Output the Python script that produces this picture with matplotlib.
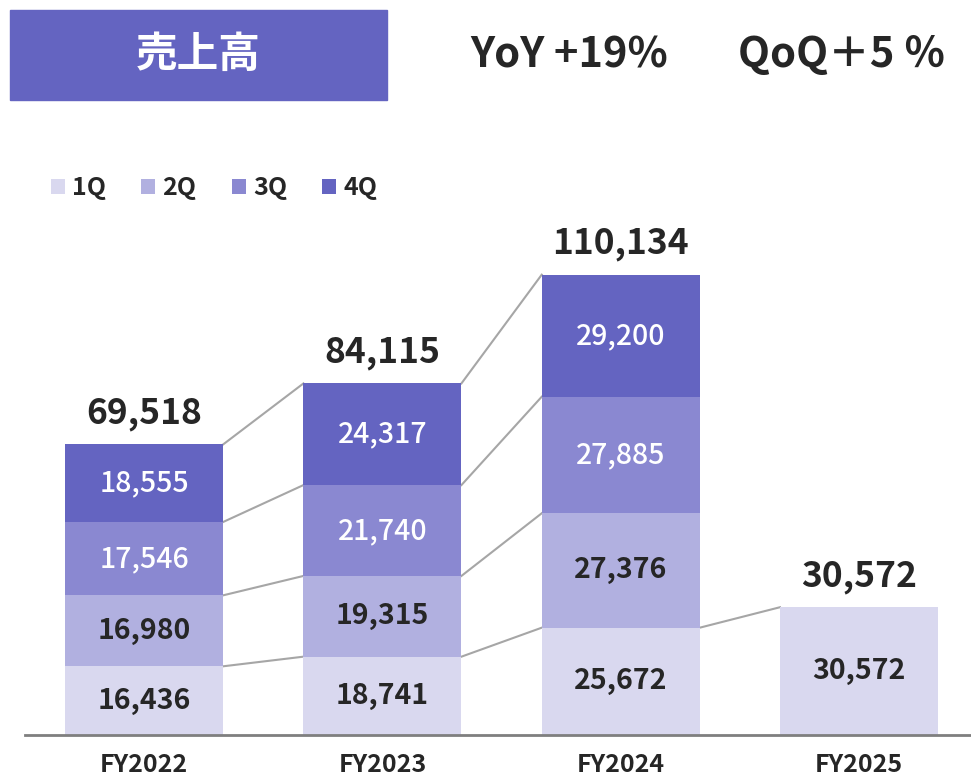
import numpy as np
import matplotlib.pyplot as plt
from matplotlib.patches import Rectangle

plt.rcParams['font.family'] = ['Noto Sans CJK JP', 'DejaVu Sans']

# Datos
years = ['FY2022', 'FY2023', 'FY2024', 'FY2025']
q1 = [16436, 18741, 25672, 30572]
q2 = [16980, 19315, 27376, 0]
q3 = [17546, 21740, 27885, 0]
q4 = [18555, 24317, 29200, 0]
totals = [69518, 84115, 110134, 30572]
quarters = ['1Q', '2Q', '3Q', '4Q']
colors = ['#D9D8EF', '#B1B0E0', '#8A88D1', '#6464C1']
text_colors = ['#262626', '#262626', 'white', 'white']

fig = plt.figure(figsize=(9.71, 7.82), dpi=100)
ax = fig.add_axes([25 / 971, 47 / 782, 946 / 971, 535 / 782])

x = np.arange(len(years))
width = 0.663
series = [q1, q2, q3, q4]
bottom = np.zeros(len(years))
for vals, col, tc, name in zip(series, colors, text_colors, quarters):
    vals = np.array(vals, dtype=float)
    ax.bar(x, vals, width, bottom=bottom, color=col, label=name, zorder=2)
    for i, v in enumerate(vals):
        if v > 0:
            ax.text(x[i], bottom[i] + v / 2, f'{int(v):,}', ha='center', va='center',
                    fontsize=20.5, fontweight='bold' if tc != 'white' else 'medium',
                    color=tc, zorder=3)
    bottom += vals

# Totales
for i, t in enumerate(totals):
    ax.text(x[i], t + 3200, f'{t:,}', ha='center', va='bottom',
            fontsize=25.5, fontweight='bold', color='#262626')

# Lineas de conexion
cum = np.cumsum(np.array(series), axis=0)
for i in range(len(years) - 1):
    n = 4 if i < 2 else 1
    for k in range(n):
        y0 = cum[k, i]
        y1 = cum[k, i + 1] if i < 2 else totals[i + 1]
        ax.plot([x[i] + width / 2, x[i + 1] - width / 2], [y0, y1],
                color='#A6A6A6', lw=1.5, zorder=1)

ax.set_xlim(-0.5, 3.47)
ax.set_ylim(0, 128000)
ax.set_xticks(x)
ax.set_xticklabels(years, fontsize=18, fontweight='bold', color='#262626')
ax.tick_params(axis='x', length=0, pad=13)
ax.set_yticks([])
for s in ['top', 'right', 'left']:
    ax.spines[s].set_visible(False)
ax.spines['bottom'].set_color('#7F7F7F')
ax.spines['bottom'].set_linewidth(2)

# Leyenda
leg = fig.legend(loc='center left', bbox_to_anchor=(38 / 971, 1 - 188 / 782), ncol=4,
                 frameon=False, fontsize=18, handlelength=0.56, handleheight=0.56,
                 handletextpad=0.3, columnspacing=1.4, borderpad=0)
for t in leg.get_texts():
    t.set_fontweight('bold')
    t.set_color('#262626')

# Titulo
fig.patches.append(Rectangle((10 / 971, 1 - 100 / 782), 377 / 971, 90 / 782,
                             transform=fig.transFigure, color='#6464C1', zorder=0))
fig.text(198 / 971, 1 - 55 / 782, '売上高', ha='center', va='center',
         fontsize=30, fontweight='bold', color='white')
fig.text(470 / 971, 1 - 55 / 782, 'YoY +19%', ha='left', va='center',
         fontsize=30, fontweight='bold', color='#262626')
fig.text(945 / 971, 1 - 55 / 782, 'QoQ＋5 ％', ha='right', va='center',
         fontsize=30, fontweight='bold', color='#262626')

fig.savefig('out.png', dpi=100)
